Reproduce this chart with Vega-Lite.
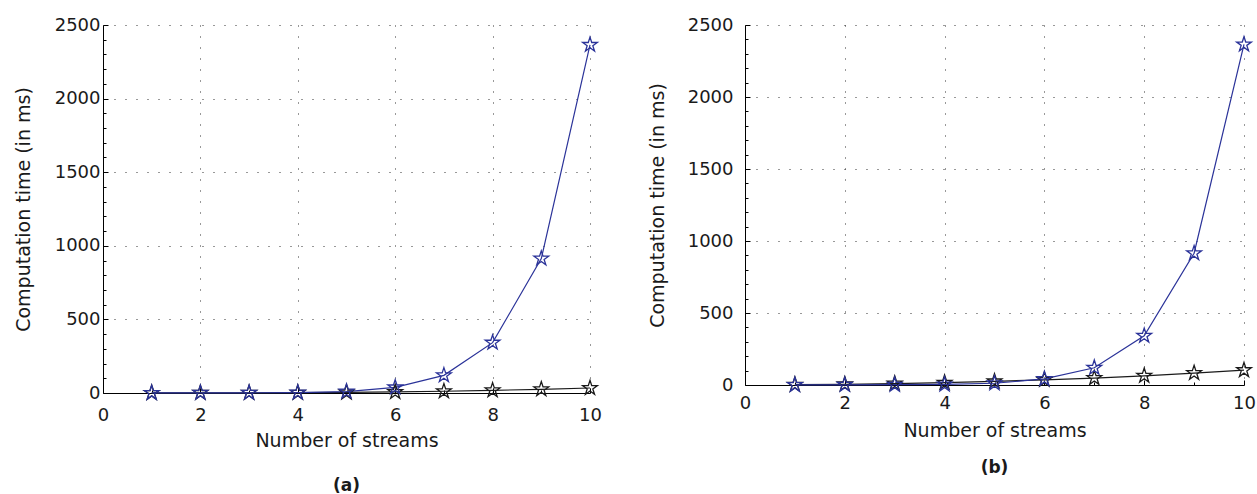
{
  "$schema": "https://vega.github.io/schema/vega-lite/v6.json",
  "background": "white",
  "padding": {"left": 14, "top": 16, "right": 2, "bottom": 2},
  "bounds": "flush",
  "spacing": 155,
  "config": {
    "font": "DejaVu Sans",
    "view": {"stroke": null},
    "axis": {
      "domainColor": "#000000",
      "domainWidth": 1,
      "tickColor": "#000000",
      "tickWidth": 1,
      "labelColor": "#1a1a1a",
      "titleColor": "#1a1a1a",
      "labelFontSize": 18,
      "titleFontSize": 19,
      "titleFontWeight": "normal",
      "gridColor": "#333333",
      "gridDash": [1, 10],
      "gridWidth": 1
    }
  },
  "datasets": {
    "panelA": [
      {"n": 1, "series": "s1", "ms": 0.5},
      {"n": 2, "series": "s1", "ms": 0.8},
      {"n": 3, "series": "s1", "ms": 1.2},
      {"n": 4, "series": "s1", "ms": 2},
      {"n": 5, "series": "s1", "ms": 4},
      {"n": 6, "series": "s1", "ms": 7},
      {"n": 7, "series": "s1", "ms": 12},
      {"n": 8, "series": "s1", "ms": 18},
      {"n": 9, "series": "s1", "ms": 25},
      {"n": 10, "series": "s1", "ms": 34},
      {"n": 1, "series": "s2", "ms": 0.5},
      {"n": 2, "series": "s2", "ms": 1},
      {"n": 3, "series": "s2", "ms": 1.5},
      {"n": 4, "series": "s2", "ms": 3},
      {"n": 5, "series": "s2", "ms": 10},
      {"n": 6, "series": "s2", "ms": 38},
      {"n": 7, "series": "s2", "ms": 120},
      {"n": 8, "series": "s2", "ms": 342},
      {"n": 9, "series": "s2", "ms": 913},
      {"n": 10, "series": "s2", "ms": 2365}
    ],
    "panelB": [
      {"n": 1, "series": "s1", "ms": 2},
      {"n": 2, "series": "s1", "ms": 5},
      {"n": 3, "series": "s1", "ms": 10},
      {"n": 4, "series": "s1", "ms": 16},
      {"n": 5, "series": "s1", "ms": 25},
      {"n": 6, "series": "s1", "ms": 36},
      {"n": 7, "series": "s1", "ms": 48},
      {"n": 8, "series": "s1", "ms": 64},
      {"n": 9, "series": "s1", "ms": 83},
      {"n": 10, "series": "s1", "ms": 103},
      {"n": 1, "series": "s2", "ms": 0.5},
      {"n": 2, "series": "s2", "ms": 1},
      {"n": 3, "series": "s2", "ms": 2},
      {"n": 4, "series": "s2", "ms": 4},
      {"n": 5, "series": "s2", "ms": 12},
      {"n": 6, "series": "s2", "ms": 42},
      {"n": 7, "series": "s2", "ms": 120},
      {"n": 8, "series": "s2", "ms": 342},
      {"n": 9, "series": "s2", "ms": 915},
      {"n": 10, "series": "s2", "ms": 2365}
    ]
  },
  "hconcat": [
    {
      "width": 487,
      "height": 368,
      "data": {"name": "panelA"},
      "title": {"text": "(a)", "orient": "bottom", "anchor": "middle", "frame": "group", "fontSize": 17, "fontWeight": "bold", "color": "#1a1a1a", "offset": 28},
      "encoding": {
        "x": {
          "field": "n", "type": "quantitative",
          "scale": {"domain": [0, 10], "nice": false, "zero": false},
          "axis": {
            "title": "Number of streams",
            "values": [0, 0.25, 0.5, 0.75, 1, 1.25, 1.5, 1.75, 2, 2.25, 2.5, 2.75, 3, 3.25, 3.5, 3.75, 4, 4.25, 4.5, 4.75, 5, 5.25, 5.5, 5.75, 6, 6.25, 6.5, 6.75, 7, 7.25, 7.5, 7.75, 8, 8.25, 8.5, 8.75, 9, 9.25, 9.5, 9.75, 10],
            "format": "d",
            "labelExpr": "datum.value % 2 === 0 ? datum.label : ''",
            "labelFlush": false,
            "labelOverlap": false,
            "grid": true,
            "gridOpacity": {"condition": {"test": "datum.value % 2 === 0 && datum.value > 0", "value": 1}, "value": 0},
            "tickSize": {"condition": {"test": "datum.value % 2 === 0", "value": -5}, "value": -3},
            "labelPadding": 18,
            "titlePadding": 5
          }
        },
        "y": {
          "field": "ms", "type": "quantitative",
          "scale": {"domain": [0, 2500], "nice": false},
          "axis": {
            "title": "Computation time (in ms)",
            "values": [0, 100, 200, 300, 400, 500, 600, 700, 800, 900, 1000, 1100, 1200, 1300, 1400, 1500, 1600, 1700, 1800, 1900, 2000, 2100, 2200, 2300, 2400, 2500],
            "labelExpr": "datum.value % 500 === 0 ? datum.label : ''",
            "format": "d",
            "labelOverlap": false,
            "labelFlush": false,
            "grid": true,
            "gridOpacity": {"condition": {"test": "datum.value % 500 === 0 && datum.value > 0", "value": 1}, "value": 0},
            "tickSize": {"condition": {"test": "datum.value % 500 === 0", "value": -5}, "value": -3},
            "labelPadding": 8,
            "titlePadding": 21
          }
        },
        "color": {
          "field": "series", "type": "nominal",
          "scale": {"domain": ["s1", "s2"], "range": ["#1a1a1a", "#2b3399"]},
          "legend": null
        }
      },
      "layer": [
        {"mark": {"type": "line", "strokeWidth": 1.2}},
        {"mark": {"type": "point", "filled": false, "strokeWidth": 1.3, "size": 240, "opacity": 1,
          "shape": "M0,-1L0.2245,-0.309L0.9511,-0.309L0.3633,0.118L0.5878,0.809L0,0.382L-0.5878,0.809L-0.3633,0.118L-0.9511,-0.309L-0.2245,-0.309Z"}}
      ]
    },
    {
      "width": 499,
      "height": 360,
      "data": {"name": "panelB"},
      "title": {"text": "(b)", "orient": "bottom", "anchor": "middle", "frame": "group", "fontSize": 17, "fontWeight": "bold", "color": "#1a1a1a", "offset": 20},
      "encoding": {
        "x": {
          "field": "n", "type": "quantitative",
          "scale": {"domain": [0, 10], "nice": false, "zero": false},
          "axis": {
            "title": "Number of streams",
            "values": [0, 0.25, 0.5, 0.75, 1, 1.25, 1.5, 1.75, 2, 2.25, 2.5, 2.75, 3, 3.25, 3.5, 3.75, 4, 4.25, 4.5, 4.75, 5, 5.25, 5.5, 5.75, 6, 6.25, 6.5, 6.75, 7, 7.25, 7.5, 7.75, 8, 8.25, 8.5, 8.75, 9, 9.25, 9.5, 9.75, 10],
            "format": "d",
            "labelExpr": "datum.value % 2 === 0 ? datum.label : ''",
            "labelFlush": false,
            "labelOverlap": false,
            "grid": true,
            "gridOpacity": {"condition": {"test": "datum.value % 2 === 0 && datum.value > 0", "value": 1}, "value": 0},
            "tickSize": {"condition": {"test": "datum.value % 2 === 0", "value": -5}, "value": -3},
            "labelPadding": 14,
            "titlePadding": 7
          }
        },
        "y": {
          "field": "ms", "type": "quantitative",
          "scale": {"domain": [0, 2500], "nice": false},
          "axis": {
            "title": "Computation time (in ms)",
            "values": [0, 100, 200, 300, 400, 500, 600, 700, 800, 900, 1000, 1100, 1200, 1300, 1400, 1500, 1600, 1700, 1800, 1900, 2000, 2100, 2200, 2300, 2400, 2500],
            "labelExpr": "datum.value % 500 === 0 ? datum.label : ''",
            "format": "d",
            "labelOverlap": false,
            "labelFlush": false,
            "grid": true,
            "gridOpacity": {"condition": {"test": "datum.value % 500 === 0 && datum.value > 0", "value": 1}, "value": 0},
            "tickSize": {"condition": {"test": "datum.value % 500 === 0", "value": -5}, "value": -3},
            "labelPadding": 17,
            "titlePadding": 20
          }
        },
        "color": {
          "field": "series", "type": "nominal",
          "scale": {"domain": ["s1", "s2"], "range": ["#1a1a1a", "#2b3399"]},
          "legend": null
        }
      },
      "layer": [
        {"mark": {"type": "line", "strokeWidth": 1.2}},
        {"mark": {"type": "point", "filled": false, "strokeWidth": 1.3, "size": 240, "opacity": 1,
          "shape": "M0,-1L0.2245,-0.309L0.9511,-0.309L0.3633,0.118L0.5878,0.809L0,0.382L-0.5878,0.809L-0.3633,0.118L-0.9511,-0.309L-0.2245,-0.309Z"}}
      ]
    }
  ]
}
